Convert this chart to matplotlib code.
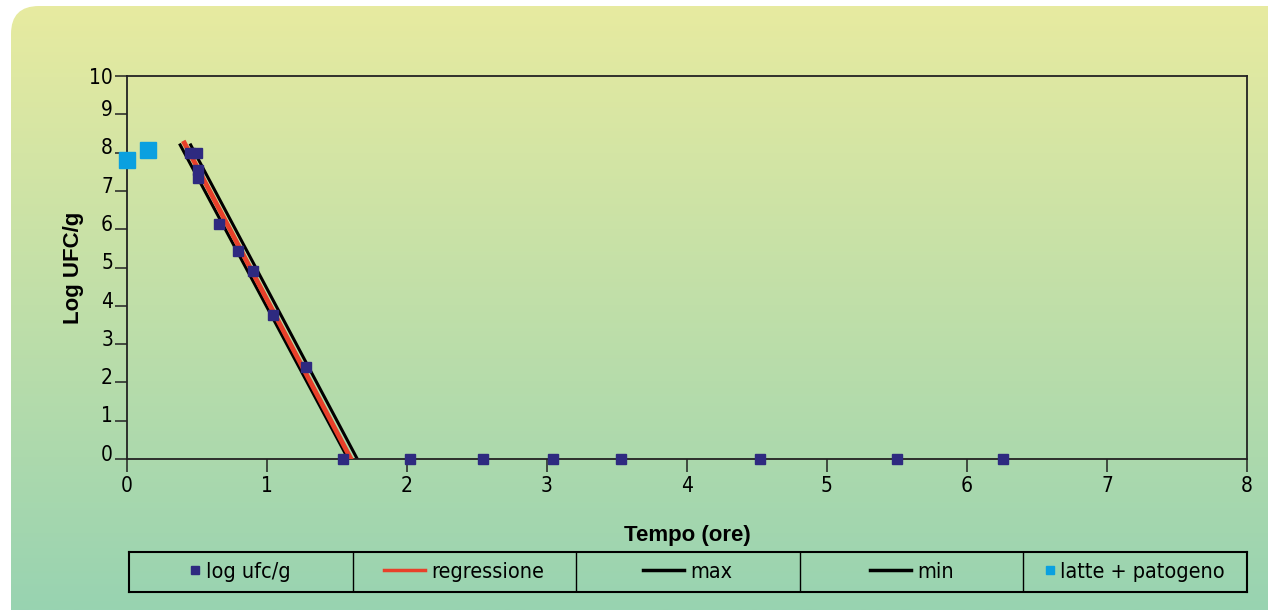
import numpy as np
import matplotlib
matplotlib.use("Agg")
import matplotlib.pyplot as plt
from matplotlib.patches import FancyBboxPatch
from matplotlib.lines import Line2D
from matplotlib.legend import Legend
from matplotlib.font_manager import FontProperties
import matplotlib.transforms as mtransforms

# dati
log_x = [0.45, 0.50, 0.51, 0.51, 0.66, 0.79, 0.90, 1.04, 1.28, 1.54,
         2.02, 2.54, 3.04, 3.53, 4.52, 5.50, 6.26]
log_y = [8.0, 8.0, 7.55, 7.33, 6.14, 5.44, 4.92, 3.76, 2.41, 0,
         0, 0, 0, 0, 0, 0, 0]
latte_x = [0.0, 0.15]
latte_y = [7.8, 8.07]
regr_x = [0.41, 1.60]
regr_y = [8.25, 0.0]
max_x = [0.455, 1.645]
max_y = [8.2, 0.0]
min_x = [0.38, 1.58]
min_y = [8.2, 0.0]
legend_labels = ["log ufc/g", "regressione", "max", "min", "latte + patogeno"]

blu = "#2e2a80"
azzurro = "#0aa0e0"
rosso = "#e8402a"

W, H = 1268, 610
fig = plt.figure(figsize=(W / 100, H / 100), dpi=100)

# sfondo sfumato con angoli arrotondati
bg = fig.add_axes([0, 0, 1, 1])
bg.set_xlim(0, W)
bg.set_ylim(H, 0)
bg.axis("off")
top = np.array([232, 235, 160]) / 255
bot = np.array([152, 211, 177]) / 255
t = np.linspace(0, 1, 256)[:, None]
grad = (top[None, :] * (1 - t) + bot[None, :] * t)[:, None, :]
im = bg.imshow(grad, extent=[0, W, H, 0], aspect="auto", zorder=0)
box = FancyBboxPatch((11, 6), W + 60, H + 60, boxstyle="round,pad=0,rounding_size=28",
                     transform=bg.transData, facecolor="none", edgecolor="none")
bg.add_patch(box)
im.set_clip_path(box)

tick_fp = FontProperties(family="DejaVu Sans", stretch="condensed", size=15)
leg_fp = FontProperties(family="DejaVu Sans", stretch="condensed", size=15.5)
label_fp = FontProperties(family="Liberation Sans", weight="bold", size=16)

ax = fig.add_axes([127 / W, 1 - 459 / H, (1247 - 127) / W, (459 - 76) / H])
ax.patch.set_alpha(0)
ax.set_xlim(0, 8)
ax.set_ylim(0, 10)
ax.set_xticks(range(0, 9))
ax.set_yticks(range(0, 11))
for s in ax.spines.values():
    s.set_color("#222222")
    s.set_linewidth(1.3)
ax.tick_params(axis="both", direction="out", length=9, width=1.1, color="#222222")
ax.tick_params(axis="y", pad=1)
ax.tick_params(axis="x", pad=3)
for lab in ax.get_xticklabels() + ax.get_yticklabels():
    lab.set_fontproperties(tick_fp)
off = mtransforms.ScaledTranslation(0, 4.5 / 72, fig.dpi_scale_trans)
for lab in ax.get_yticklabels()[:-1]:
    lab.set_transform(lab.get_transform() + off)

ax.plot(min_x, min_y, color="black", lw=2.2, zorder=2)
ax.plot(max_x, max_y, color="black", lw=2.2, zorder=2)
ax.plot(regr_x, regr_y, color=rosso, lw=3.5, zorder=3)
ax.plot(log_x, log_y, "s", color=blu, ms=7, ls="none", zorder=4, clip_on=False)
ax.plot(latte_x, latte_y, "s", color=azzurro, ms=11, ls="none", zorder=4, clip_on=False)

ax.set_xlabel("Tempo (ore)", labelpad=21, fontproperties=label_fp)
ax.set_ylabel("Log UFC/g", labelpad=4, fontproperties=label_fp)

# legenda a tabella
lg = fig.add_axes([129 / W, 1 - 592 / H, (1247 - 129) / W, 40 / H])
lg.patch.set_alpha(0)
lg.set_xlim(0, 5)
lg.set_ylim(0, 1)
lg.set_xticks([])
lg.set_yticks([])
for s in lg.spines.values():
    s.set_linewidth(1.5)
for i in range(1, 5):
    lg.axvline(i, color="black", lw=1)

handles = [
    Line2D([], [], marker="s", color=blu, ms=6, ls="none"),
    Line2D([], [], color=rosso, lw=2.5),
    Line2D([], [], color="black", lw=2.5),
    Line2D([], [], color="black", lw=2.5),
    Line2D([], [], marker="s", color=azzurro, ms=6, ls="none"),
]
for i, (h, lab) in enumerate(zip(handles, legend_labels)):
    marker_only = h.get_linestyle() == "None"
    leg = Legend(lg, [h], [lab], loc="center", bbox_to_anchor=(i, 0, 1, 1),
                 bbox_transform=lg.transData, frameon=False,
                 handlelength=0.4 if marker_only else 1.9,
                 handletextpad=0.3, borderpad=0, prop=leg_fp)
    lg.add_artist(leg)

fig.savefig("out.png", dpi=100)
